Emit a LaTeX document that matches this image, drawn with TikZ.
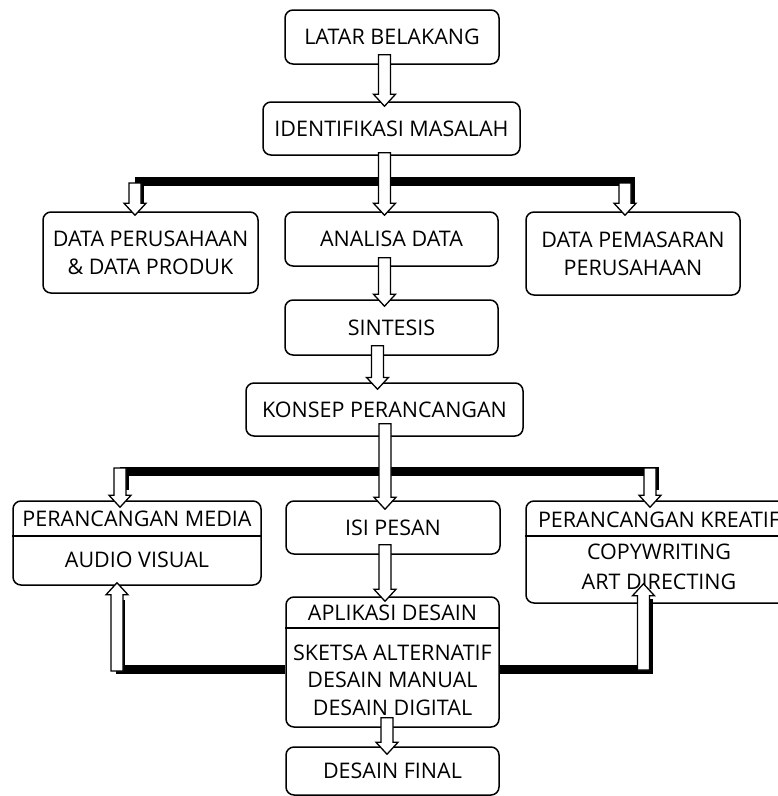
\documentclass[tikz,border=0pt]{standalone}
\usepackage{fontspec}
\setmainfont{Open Sans}
\usepackage{tikz}
\usetikzlibrary{calc}
\pgfdeclarelayer{background}
\pgfdeclarelayer{foreground}
\pgfsetlayers{background,main,foreground}

\begin{document}
\begin{tikzpicture}[x=1pt, y=-1pt,
							roundbox/.style={draw=black, line width=1.5pt, rounded corners=8pt, inner sep=0pt, align=center, font=\fontsize{21.5}{28}\selectfont},
							boxtext/.style={inner sep=0pt, align=center, font=\fontsize{21.5}{28}\selectfont},
							bar/.style={line width=9pt, black},
							blockarrow/.style={draw=black, line width=1.3pt, fill=white, line join=miter,
								to path={let \p1=(\tikztostart), \p2=(\tikztotarget), \p3=($(\p2)!12pt!(\p1)$) in
									(\x2-6pt,\y1) -- (\x2-6pt,\y3) -- (\x2-11pt,\y3) -- (\x2,\y2) -- (\x2+11pt,\y3) -- (\x2+6pt,\y3) -- (\x2+6pt,\y1) -- cycle}},
							]
							\useasboundingbox (0,0) rectangle (778,796);
							%Nodes
							\node[roundbox, minimum width=214, minimum height=54]   (latar)        at (392,37)      {LATAR BELAKANG};
							\node[roundbox, minimum width=257, minimum height=53]   (identifikasi) at (391.5,128.5) {IDENTIFIKASI MASALAH};
							\node[roundbox, minimum width=215, minimum height=81]   (perusahaan)   at (150.5,252.5) {DATA PERUSAHAAN\\\& DATA PRODUK};
							\node[roundbox, minimum width=213, minimum height=54]   (analisa)      at (391.5,239)   {ANALISA DATA};
							\node[roundbox, minimum width=214, minimum height=83]   (pemasaran)    at (633,253.5)   {DATA PEMASARAN\\PERUSAHAAN};
							\node[roundbox, minimum width=213, minimum height=55]   (sintesis)     at (391.5,327.5) {SINTESIS};
							\node[roundbox, minimum width=277, minimum height=53]   (konsep)       at (384.5,409.5) {KONSEP PERANCANGAN};
							\node[roundbox, minimum width=248, minimum height=84]   (media)        at (137,543)     {};
							\node[boxtext]                                          (mediajudul)   at (137,519)     {PERANCANGAN MEDIA};
							\node[boxtext]                                          (mediaisi)     at (137,560)     {AUDIO VISUAL};
							\node[roundbox, minimum width=214, minimum height=53]   (isi)          at (393,527.5)   {ISI PESAN};
							\node[roundbox, minimum width=266, minimum height=102]  (kreatif)      at (659,552)     {};
							\node[boxtext]                                          (kreatifjudul) at (659,520)     {PERANCANGAN KREATIF};
							\node[boxtext, font=\fontsize{21.5}{30}\selectfont]     (kreatifisi)   at (659,567)     {COPYWRITING\\ART DIRECTING};
							\node[roundbox, minimum width=213, minimum height=130]  (aplikasi)     at (392.5,662)   {};
							\node[boxtext]                                          (aplikasijudul) at (392.5,613)  {APLIKASI DESAIN};
							\node[boxtext, font=\fontsize{21.5}{27.5}\selectfont]   (aplikasiisi)  at (392.5,680)   {SKETSA ALTERNATIF\\DESAIN MANUAL\\DESAIN DIGITAL};
							\node[roundbox, minimum width=213, minimum height=48]   (final)        at (392.5,771)   {DESAIN FINAL};
							
							%Dividers
							\draw[line width=1.5pt] (media.west |- 0,536) -- (media.east |- 0,536);
							\draw[line width=1.5pt] (kreatif.west |- 0,536) -- (kreatif.east |- 0,536);
							\draw[line width=1.5pt] (aplikasi.west |- 0,628) -- (aplikasi.east |- 0,628);
							
							%Bar corners
							\coordinate (atasL)  at (139,181);
							\coordinate (atasR)  at (630,181);
							\coordinate (bawahL) at (124,471);
							\coordinate (bawahR) at (654,471);
							\coordinate (balikL) at (120.5,669);
							\coordinate (balikR) at (648.5,669);
							
							\begin{pgfonlayer}{background}
							%Lines
							\draw[bar] ($(perusahaan.north -| atasL)+(0,-8)$) -- (atasL) -- (atasR) -- ($(pemasaran.north -| atasR)+(0,-8)$);
							\draw[bar] ($(media.north -| bawahL)+(0,-10)$) -- (bawahL) -- (bawahR) -- ($(kreatif.north -| bawahR)+(0,-10)$);
							\draw[bar] (aplikasi.west |- balikL) -- (balikL) -- ($(media.south -| balikL)+(0,14)$);
							\draw[bar] (aplikasi.east |- balikR) -- (balikR) -- ($(kreatif.south -| balikR)+(0,-5)$);
							\end{pgfonlayer}
							
							%Arrows
							\draw[blockarrow] ([xshift=-7pt,yshift=10pt]latar.south) to ([xshift=-7pt,yshift=-5pt]identifikasi.north);
							\draw[blockarrow] ([xshift=-7pt,yshift=3pt]identifikasi.south) to ([xshift=-7pt,yshift=-4pt]analisa.north);
							\draw[blockarrow] ([xshift=-7pt,yshift=9pt]analisa.south) to ([xshift=-7pt,yshift=-7pt]sintesis.north);
							\draw[blockarrow] ([xshift=-7pt,yshift=10pt]sintesis.south) to ([xshift=-7pt,yshift=-7pt]konsep.north);
							\draw[blockarrow] ([xshift=1pt,yshift=13pt]konsep.south) to ([xshift=-8pt,yshift=-9pt]isi.north);
							\draw[blockarrow] ([xshift=-8pt,yshift=10pt]isi.south) to ([xshift=-7.5pt,yshift=-5pt]aplikasi.north);
							\draw[blockarrow] ([xshift=-5.5pt,yshift=10pt]aplikasi.south) to ([xshift=-5.5pt,yshift=-8pt]final.north);
							\draw[blockarrow] ($(atasL)+(-4,2)$) to ($(perusahaan.north -| atasL)+(-4,4)$);
							\draw[blockarrow] ($(atasR)+(-5,2)$) to ($(pemasaran.north -| atasR)+(-5,4)$);
							\draw[blockarrow] ($(bawahL)+(-4,-3)$) to ($(media.north -| bawahL)+(-4,7)$);
							\draw[blockarrow] ($(bawahR)+(-4,-3)$) to ($(kreatif.north -| bawahR)+(-4,7)$);
							\draw[blockarrow] ($(balikL)+(-3.5,2)$) to ($(media.south -| balikL)+(-3.5,-3)$);
							\draw[blockarrow] ($(balikR)+(-5,1)$) to ($(kreatif.south -| balikR)+(-5,-20)$);
						\end{tikzpicture}
\end{document}
